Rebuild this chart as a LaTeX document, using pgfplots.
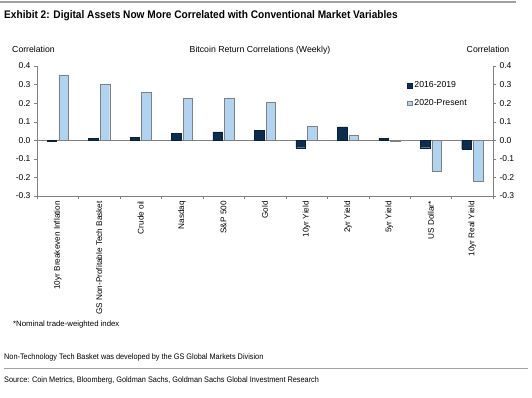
\documentclass[border=0pt]{standalone}
\usepackage{pgfplots}
\pgfplotsset{compat=1.18}
\usepackage{fontspec}
\setmainfont{Liberation Sans}
\definecolor{navy}{HTML}{0B2E50}
\definecolor{lightb}{HTML}{B0D3F1}
\definecolor{axgray}{HTML}{808080}
\definecolor{rulegray}{HTML}{A0A0A0}
\begin{document}
\begin{tikzpicture}
\path[use as bounding box, fill=white] (0pt,0pt) rectangle (532pt,-398pt);
\draw[rulegray, line width=1.2pt] (0pt,-2pt) -- (516pt,-2pt);
\node[anchor=west, inner sep=0] at (4pt,-16pt) {\scalebox{0.92}[1]{\fontsize{11}{13}\selectfont\bfseries Exhibit 2: Digital Assets Now More Correlated with Conventional Market Variables}};
\node[anchor=base, inner sep=0, font=\fontsize{8.7}{10}\selectfont] at (33.5pt,-53pt) {Correlation};
\node[anchor=base, inner sep=0, font=\fontsize{8.7}{10}\selectfont] at (260pt,-53pt) {Bitcoin Return Correlations (Weekly)};
\node[anchor=base, inner sep=0, font=\fontsize{8.7}{10}\selectfont] at (488pt,-53pt) {Correlation};

\begin{axis}[at={(37pt,-196pt)}, anchor=south west, width=456pt, height=130pt, scale only axis,
  ymin=-0.3, ymax=0.4, xmin=-0.5, xmax=10.5,
  axis y line*=left, axis x line*=bottom,
  axis line style={draw=axgray},
  tick align=outside, major tick length=3pt,
  tick style={draw=axgray},
  ytick={-0.3,-0.2,-0.1,0,0.1,0.2,0.3,0.4},
  yticklabel style={font=\fontsize{8.5}{10}\selectfont, /pgf/number format/fixed, /pgf/number format/fixed zerofill, /pgf/number format/precision=1, /pgf/number format/assume math mode=true},
  xtick={0,...,10},
  xtick style={draw=none},
  xticklabels={10yr Breakeven Inflation, GS Non-Profitable Tech Basket, Crude oil, Nasdaq, S\&P 500, Gold, 10yr Yield, 2yr Yield, 5yr Yield, US Dollar*, 10yr Real Yield},
  x tick label style={rotate=90, anchor=east, font=\fontsize{8.2}{9}\selectfont, inner sep=2pt},
  extra x ticks={-0.5,0.5,1.5,2.5,3.5,4.5,5.5,6.5,7.5,8.5,9.5,10.5},
  extra x tick labels={},
  extra x tick style={xtick style={draw=axgray}, major tick length=3pt},
  extra y ticks={0}, extra y tick labels={},
  extra y tick style={grid=major, major grid style={draw=axgray}, major tick length=0pt},
  legend style={draw=none, fill=none, at={(0.812,0.895)}, anchor=north west, font=\fontsize{8.7}{10}\selectfont, row sep=6pt, inner sep=0pt},
  legend cell align=left,
  legend image code/.code={\draw[#1] (0pt,-2.3pt) rectangle (4.6pt,2.3pt);},
]
\addplot[ybar, bar width=9.5pt, bar shift=-5.8pt, fill=navy, draw=navy!70!black] coordinates {
(0,-0.003) (1,0.010) (2,0.015) (3,0.038) (4,0.045) (5,0.055) (6,-0.040) (7,0.072) (8,0.010) (9,-0.040) (10,-0.048)};
\addlegendentry{2016-2019}
\addplot[ybar, bar width=9.5pt, bar shift=5.8pt, fill=lightb, draw=axgray] coordinates {
(0,0.352) (1,0.301) (2,0.257) (3,0.228) (4,0.228) (5,0.203) (6,0.075) (7,0.028) (8,-0.003) (9,-0.165) (10,-0.218)};
\addlegendentry{2020-Present}
\end{axis}

\begin{axis}[at={(37pt,-196pt)}, anchor=south west, width=456pt, height=130pt, scale only axis,
  ymin=-0.3, ymax=0.4, xmin=-0.5, xmax=10.5,
  axis y line*=right, axis x line=none,
  axis line style={draw=axgray},
  tick align=outside, major tick length=3pt,
  tick style={draw=axgray},
  ytick={-0.3,-0.2,-0.1,0,0.1,0.2,0.3,0.4},
  yticklabel style={font=\fontsize{8.5}{10}\selectfont, /pgf/number format/fixed, /pgf/number format/fixed zerofill, /pgf/number format/precision=1, /pgf/number format/assume math mode=true},
]
\end{axis}

\node[anchor=base west, inner sep=0, font=\fontsize{7.8}{9}\selectfont] at (13pt,-326pt) {*Nominal trade-weighted index};
\node[anchor=base west, inner sep=0] at (4pt,-359.5pt) {\scalebox{0.915}[1]{\fontsize{8}{9}\selectfont Non-Technology Tech Basket was developed by the GS Global Markets Division}};
\draw[rulegray, line width=0.6pt] (4pt,-368pt) -- (528pt,-368pt);
\node[anchor=base west, inner sep=0] at (4pt,-382.5pt) {\scalebox{0.915}[1]{\fontsize{8}{9}\selectfont Source: Coin Metrics, Bloomberg, Goldman Sachs, Goldman Sachs Global Investment Research}};
\end{tikzpicture}
\end{document}
